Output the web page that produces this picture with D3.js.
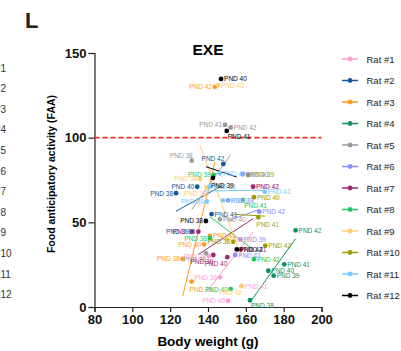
<!DOCTYPE html>
<html>
<head>
<meta charset="utf-8">
<script src="https://cdn.jsdelivr.net/npm/d3@7/dist/d3.min.js"></script>
<style>
  body { margin: 0; background: #fff; }
  svg { display: block; font-family: Arial, "Liberation Sans", sans-serif; }
</style>
</head>
<body>
<div id="chart"></div>
<script>
// ---- data ----
const rats = ["Rat #1", "Rat #2", "Rat #3", "Rat #4", "Rat #5", "Rat #6",
              "Rat #7", "Rat #8", "Rat #9", "Rat #10", "Rat #11", "Rat #12"];
const ratColors = ["#ff9ecf", "#15589c", "#ff9a1a", "#109060", "#9a9a9a", "#8a8cff",
                   "#9c2a70", "#22c55e", "#ffcc77", "#9c9c00", "#77ccff", "#000000"];
const pndLabels = ["PND 38", "PND 39", "PND 40", "PND 41", "PND 42"];

// body weight (g), one row per rat, PND 38..42
const bodyWeight = [
  [140.5, 146.3, 150.6, 157.8, 163.9],
  [123.1, 131.4, 134.3, 141.9, 148.1],
  [126.6, 131.4, 137.9, 141.0, 143.7],
  [162.2, 174.7, 171.9, 180.3, 186.3],
  [131.4, 138.9, 146.3, 149.0, 152.0],
  [150.6, 157.0, 158.3, 154.3, 167.1],
  [134.9, 142.8, 150.2, 157.3, 163.8],
  [141.0, 143.0, 152.0, 158.6, 164.3],
  [135.8, 139.3, 145.3, 150.0, 157.8],
  [153.3, 161.3, 164.3, 166.6, 170.3],
  [141.0, 139.3, 146.3, 170.0, 148.0],
  [138.9, 142.6, 146.9, 149.9, 155.2]
];
// food anticipatory activity, same layout
const faa = [
  [30.0, 17.5, 3.7, 12.4, 71.0],
  [67.2, 44.5, 71.0, 54.9, 84.5],
  [28.4, 15.0, 37.0, 42.0, 130.0],
  [4.0, 18.5, 21.4, 25.2, 45.3],
  [86.4, 31.7, 51.8, 107.5, 106.0],
  [63.0, 40.0, 78.4, 30.7, 56.3],
  [44.5, 30.7, 29.4, 34.0, 71.0],
  [40.6, 78.0, 10.6, 63.2, 28.2],
  [75.6, 70.7, 131.0, 40.0, 12.4],
  [38.6, 78.0, 64.8, 53.0, 36.2],
  [71.0, 62.2, 79.0, 68.0, 63.0],
  [50.8, 76.2, 134.7, 104.0, 34.0]
];
const xTicks = [80, 100, 120, 140, 160, 180, 200];
const yTicks = [0, 50, 100, 150];
const threshold = 100;

// label placement: default right of the dot; these sit left ("l"), below ("b") etc.
const labelPlace = {
  "0-0": "l", "0-1": "l", "0-2": "l",
  "1-0": "l", "1-1": "l", "1-2": "l", "1-4": "tl",
  "2-0": "l", "2-1": "b", "2-2": "l", "2-4": "l",
  "3-0": "br",
  "4-0": "tl", "4-1": "bl", "4-3": "l",
  "6-0": "l", "6-1": "bl", "6-2": "bl",
  "7-0": "l", "7-1": "l", "7-2": "l", "7-3": "br",
  "8-0": "l", "8-1": "bl", "8-4": "bl",
  "9-0": "l", "9-3": "b",
  "10-1": "l",
  "11-0": "l", "11-1": "b", "11-3": "br"
};
const placeOffsets = {
  r: [3, 2.5, "start"], l: [-3, 2.5, "end"], b: [-2, 10, "start"],
  br: [1, 8, "start"], bl: [0, 9, "end"], tl: [1, -3, "end"]
};

// ---- chart ----
const W = 401, H = 351;
const svg = d3.select("#chart").append("svg")
  .attr("width", W).attr("height", H);

const x = d3.scaleLinear().domain([80, 200]).range([94.5, 321.5]);
const y = d3.scaleLinear().domain([0, 150]).range([307, 53]);

// clipped legend of the neighbouring panel at the left edge
svg.selectAll("text.prev").data(rats).join("text")
  .attr("class", "prev")
  .attr("x", -23.5)
  .attr("y", (d, i) => 71.5 + i * 20.6)
  .attr("font-size", 10).attr("fill", "#333")
  .text(d => d);

svg.append("text").attr("x", 25).attr("y", 28)
  .attr("font-size", 22).attr("font-weight", "bold").attr("fill", "#222")
  .text("L");

svg.append("text").attr("x", 208).attr("y", 55)
  .attr("text-anchor", "middle")
  .attr("font-size", 15.5).attr("font-weight", "bold")
  .text("EXE");

// axes
const xAxis = svg.append("g").attr("transform", "translate(0,307)")
  .call(d3.axisBottom(x).tickValues(xTicks).tickSize(5).tickPadding(3));
const yAxis = svg.append("g").attr("transform", "translate(94.5,0)")
  .call(d3.axisLeft(y).tickValues(yTicks).tickSize(6).tickPadding(2));
[xAxis, yAxis].forEach(g => {
  g.select(".domain").attr("stroke", "#222").attr("stroke-width", 1.2);
  g.selectAll(".tick line").attr("stroke", "#222").attr("stroke-width", 1.2);
  g.selectAll(".tick text").attr("font-size", 13).attr("font-weight", "bold")
    .attr("fill", "#111").attr("font-family", "Arial, 'Liberation Sans', sans-serif");
});

svg.append("text")
  .attr("transform", "translate(55,174) rotate(-90)")
  .attr("text-anchor", "middle")
  .attr("font-size", 10.5).attr("font-weight", "bold")
  .text("Food anticipatory activity (FAA)");

svg.append("text").attr("x", 208).attr("y", 346)
  .attr("text-anchor", "middle")
  .attr("font-size", 13.5).attr("font-weight", "bold")
  .text("Body weight (g)");

// threshold line
svg.append("line")
  .attr("x1", x(80)).attr("x2", x(200))
  .attr("y1", y(threshold)).attr("y2", y(threshold))
  .attr("stroke", "#ff2a1a").attr("stroke-width", 1.6)
  .attr("stroke-dasharray", "5,3");

// build points
const points = [];
rats.forEach((r, i) => {
  bodyWeight[i].forEach((w, j) => {
    points.push({rat: i, pnd: j, w: w, v: faa[i][j]});
  });
});

// regression line per rat
function fit(ws, vs) {
  const mw = d3.mean(ws), mv = d3.mean(vs);
  const sxy = d3.sum(ws, (w, k) => (w - mw) * (vs[k] - mv));
  const sxx = d3.sum(ws, w => (w - mw) * (w - mw));
  const b = sxy / sxx;
  return {b: b, a: mv - b * mw};
}
const fits = rats.map((r, i) => {
  const f = fit(bodyWeight[i], faa[i]);
  const [w0, w1] = d3.extent(bodyWeight[i]);
  return {rat: i, w0: w0, w1: w1, v0: f.a + f.b * w0, v1: f.a + f.b * w1};
});

svg.append("g").selectAll("line").data(fits).join("line")
  .attr("x1", d => x(d.w0)).attr("x2", d => x(d.w1))
  .attr("y1", d => y(d.v0)).attr("y2", d => y(d.v1))
  .attr("stroke", d => ratColors[d.rat]).attr("stroke-width", 1);

svg.append("g").selectAll("circle").data(points).join("circle")
  .attr("cx", d => x(d.w)).attr("cy", d => y(d.v)).attr("r", 2.4)
  .attr("fill", d => ratColors[d.rat]);

svg.append("g").selectAll("text").data(points).join("text")
  .each(function(d) {
    const p = placeOffsets[labelPlace[d.rat + "-" + d.pnd] || "r"];
    d3.select(this)
      .attr("x", x(d.w) + p[0])
      .attr("y", y(d.v) + p[1])
      .attr("text-anchor", p[2]);
  })
  .attr("font-size", 6.5)
  .attr("fill", d => ratColors[d.rat])
  .text(d => pndLabels[d.pnd]);

// legend
const leg = svg.append("g").selectAll("g").data(rats).join("g")
  .attr("transform", (d, i) => `translate(0,${59 + i * 21.5})`);
leg.append("line").attr("x1", 342).attr("x2", 358)
  .attr("stroke", (d, i) => ratColors[i]).attr("stroke-width", 1.5);
leg.append("circle").attr("cx", 350).attr("r", 2.4)
  .attr("fill", (d, i) => ratColors[i]);
leg.append("text").attr("x", 366.5).attr("y", 3.5)
  .attr("font-size", 9.5).attr("fill", "#222")
  .text(d => d);
</script>
</body>
</html>
